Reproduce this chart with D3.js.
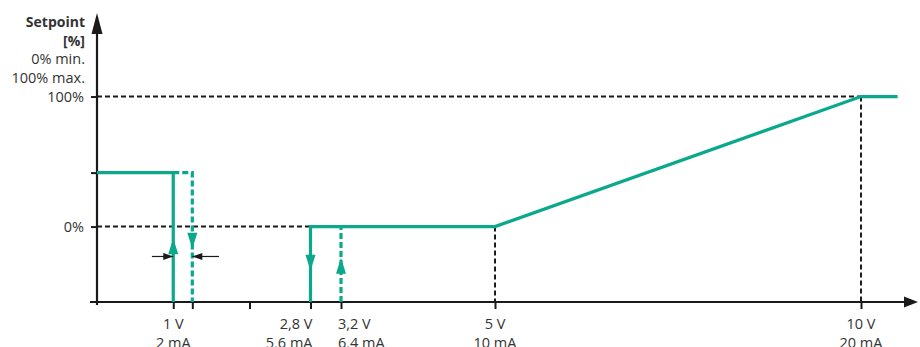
<!DOCTYPE html>
<html>
<head>
<meta charset="utf-8">
<script src="https://cdn.jsdelivr.net/npm/d3@7"></script>
<style>
  body { margin: 0; background: #fff; }
  svg text { font-family: "Open Sans", sans-serif; fill: #333; }
</style>
</head>
<body>
<div id="chart"></div>
<script>
// input signal in volts, setpoint in %
var xTickValues = [1, 1.25, 2, 2.8, 3.2, 5, 10];
var xLabelValues = [1, 2.8, 3.2, 5, 10];
var voltLabels = ["1 V", "2,8 V", "3,2 V", "5 V", "10 V"];
var mALabels = ["2 mA", "5,6 mA", "6,4 mA", "10 mA", "20 mA"];
var labelAnchor = ["middle", "end", "start", "middle", "middle"];

var offLevel = 41.5;
var yTickValues = [0, offLevel, 100];
var yTickLabels = ["0%", "", "100%"];
var yTitle = ["Setpoint", "[%]", "0% min.", "100% max."];

var solidOff = [[0, offLevel], [1, offLevel], [1, -58]];
var dashedOff = [[1, offLevel], [1.25, offLevel], [1.25, -58]];
var solidOn = [[2.8, -58], [2.8, 0], [5, 0], [10, 100], [10.5, 100]];
var dashedOn = [[3.2, -58], [3.2, 0]];

var refLines = [
  [[0, 100], [10, 100]],
  [[0, 0], [2.8, 0]],
  [[5, 0], [5, -58]],
  [[10, 100], [10, -58]]
];

var dirArrows = [
  {x: 1, y: -9, dir: -1},
  {x: 1.25, y: -17, dir: 1},
  {x: 2.8, y: -34, dir: 1},
  {x: 3.2, y: -24, dir: -1}
];
var hystArrows = [
  {from: 0.72, to: 1, y: -23},
  {from: 1.6, to: 1.25, y: -23}
];

var width = 920, height = 347;
var green = "#0aa98b", ink = "#1a1a1a";

var svg = d3.select("#chart").append("svg")
  .attr("width", width).attr("height", height);

var x = d3.scaleLinear()
  .domain([0, 3.2, 5, 10])
  .range([97, 341, 495, 861]);
var y = d3.scaleLinear()
  .domain([-58, 165])
  .range([302, 12]);

var line = d3.line().x(function(d) { return x(d[0]); }).y(function(d) { return y(d[1]); });

// reference dashes
svg.append("g").selectAll("path")
  .data(refLines)
  .enter().append("path")
  .attr("d", line)
  .attr("fill", "none")
  .attr("stroke", ink)
  .attr("stroke-width", 2)
  .attr("stroke-dasharray", "5,3");

// axes
var xAxis = d3.axisBottom(x).tickValues(xTickValues).tickSize(7).tickFormat("");
var gx = svg.append("g").attr("transform", "translate(0," + y(-58) + ")").call(xAxis);
gx.select(".domain").remove();
gx.selectAll(".tick line").attr("stroke", ink).attr("stroke-width", 2);

var yAxis = d3.axisLeft(y).tickValues(yTickValues).tickSize(6)
  .tickFormat(function(d, i) { return yTickLabels[i]; });
var gy = svg.append("g").attr("transform", "translate(" + x(0) + ",0)").call(yAxis);
gy.select(".domain").remove();
gy.selectAll(".tick line").attr("stroke", ink).attr("stroke-width", 2);
gy.selectAll(".tick text")
  .attr("x", -13)
  .attr("dy", "0.35em")
  .style("font-size", "14.5px")
  .style("font-family", "'Open Sans', sans-serif")
  .attr("fill", "#333");

svg.append("line")
  .attr("x1", x(0) - 7).attr("x2", 906)
  .attr("y1", y(-58)).attr("y2", y(-58))
  .attr("stroke", ink).attr("stroke-width", 2.2);
svg.append("path")
  .attr("d", "M904," + (y(-58) - 5.5) + "L918," + y(-58) + "L904," + (y(-58) + 5.5) + "Z")
  .attr("fill", ink);
svg.append("line")
  .attr("x1", x(0)).attr("x2", x(0))
  .attr("y1", y(-58) + 3).attr("y2", 30)
  .attr("stroke", ink).attr("stroke-width", 2.2);
svg.append("path")
  .attr("d", "M" + (x(0) - 5.5) + ",34L" + x(0) + ",13L" + (x(0) + 5.5) + ",34Z")
  .attr("fill", ink);

// curve
function drawCurve(data, dashed) {
  svg.append("path")
    .datum(data)
    .attr("d", line)
    .attr("fill", "none")
    .attr("stroke", green)
    .attr("stroke-width", 3.2)
    .attr("stroke-dasharray", dashed ? "6,3" : null);
}
drawCurve(dashedOff, true);
drawCurve(dashedOn, true);
drawCurve(solidOff, false);
drawCurve(solidOn, false);

// direction arrowheads
svg.append("g").selectAll("path")
  .data(dirArrows)
  .enter().append("path")
  .attr("d", function(d) {
    var px = x(d.x), py = y(d.y), b = py - d.dir * 16;
    return "M" + (px - 5) + "," + b + "L" + px + "," + py + "L" + (px + 5) + "," + b + "Z";
  })
  .attr("fill", green);

// hysteresis markers
svg.append("g").selectAll("line")
  .data(hystArrows)
  .enter().append("line")
  .attr("x1", function(d) { return x(d.from); })
  .attr("x2", function(d) { return x(d.to); })
  .attr("y1", function(d) { return y(d.y); })
  .attr("y2", function(d) { return y(d.y); })
  .attr("stroke", ink).attr("stroke-width", 1.2);
svg.append("g").selectAll("path")
  .data(hystArrows)
  .enter().append("path")
  .attr("d", function(d) {
    var tx = x(d.to), ty = y(d.y), s = d.to > d.from ? -1 : 1;
    return "M" + tx + "," + ty + "L" + (tx + s * 10) + "," + (ty - 3.5) + "L" + (tx + s * 10) + "," + (ty + 3.5) + "Z";
  })
  .attr("fill", ink);

// x labels
var xl = svg.append("g").style("font-size", "14.5px");
xl.selectAll("text.v")
  .data(xLabelValues)
  .enter().append("text")
  .attr("class", "v")
  .attr("x", function(d, i) { return x(d) + (labelAnchor[i] == "end" ? 2 : labelAnchor[i] == "start" ? -3 : 0); })
  .attr("y", 329)
  .attr("text-anchor", function(d, i) { return labelAnchor[i]; })
  .text(function(d, i) { return voltLabels[i]; });
xl.selectAll("text.m")
  .data(xLabelValues)
  .enter().append("text")
  .attr("class", "m")
  .attr("x", function(d, i) { return x(d) + (labelAnchor[i] == "end" ? 2 : labelAnchor[i] == "start" ? -3 : 0); })
  .attr("y", 348)
  .attr("text-anchor", function(d, i) { return labelAnchor[i]; })
  .text(function(d, i) { return mALabels[i]; });

// y title
svg.append("g").selectAll("text")
  .data(yTitle)
  .enter().append("text")
  .attr("x", 85)
  .attr("y", function(d, i) { return 27 + i * 18.5; })
  .attr("text-anchor", "end")
  .style("font-size", function(d, i) { return i < 2 ? "14px" : "14.5px"; })
  .style("font-weight", function(d, i) { return i < 2 ? "bold" : "normal"; })
  .text(function(d) { return d; });
</script>
</body>
</html>
